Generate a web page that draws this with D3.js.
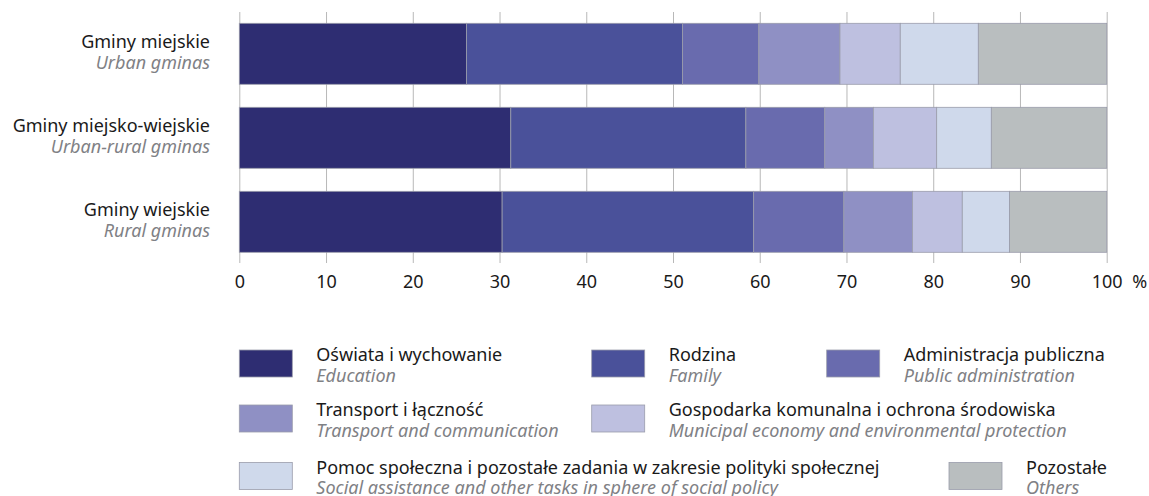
<!DOCTYPE html>
<html>
<head>
<meta charset="utf-8">
<script src="https://cdn.jsdelivr.net/npm/d3@7/dist/d3.min.js"></script>
<style>
  html, body { margin: 0; padding: 0; background: #ffffff; }
  svg { display: block; font-family: "Noto Sans", "Open Sans", sans-serif; }
</style>
</head>
<body>
<svg id="chart" width="1149" height="496"></svg>
<script>
// ---- Data ----
const categoriesPL = ["Gminy miejskie", "Gminy miejsko-wiejskie", "Gminy wiejskie"];
const categoriesEN = ["Urban gminas", "Urban-rural gminas", "Rural gminas"];

const seriesPL = ["Oświata i wychowanie", "Rodzina", "Administracja publiczna",
  "Transport i łączność", "Gospodarka komunalna i ochrona środowiska",
  "Pomoc społeczna i pozostałe zadania w zakresie polityki społecznej", "Pozostałe"];
const seriesEN = ["Education", "Family", "Public administration",
  "Transport and communication", "Municipal economy and environmental protection",
  "Social assistance and other tasks in sphere of social policy", "Others"];

// values per series, in category order (urban, urban-rural, rural), %
const education      = [26.2, 31.3, 30.3];
const family         = [24.9, 27.1, 29.0];
const publicAdmin    = [8.8, 9.1, 10.4];
const transport      = [9.35, 5.6, 7.9];
const municipal      = [6.95, 7.3, 5.75];
const socialAssist   = [9.0, 6.3, 5.45];
const others         = [14.8, 13.3, 11.2];

const tickValues = [0, 10, 20, 30, 40, 50, 60, 70, 80, 90, 100];
const unitLabel = "%";

const colors = ["#2e2d72", "#4a519a", "#696bae", "#8f90c4", "#bec0e0", "#cfd9eb", "#b9bebf"];

// ---- Build table ----
const seriesValues = [education, family, publicAdmin, transport, municipal, socialAssist, others];
const table = categoriesPL.map((c, i) => {
  const row = { cat: c };
  seriesPL.forEach((s, j) => { row[s] = seriesValues[j][i]; });
  return row;
});
const stacked = d3.stack().keys(seriesPL)(table);

// ---- Layout ----
const FS = "18px";
const svg = d3.select("#chart");
const x = d3.scaleLinear().domain([0, 100]).range([239.3, 1106.7]);
const y = d3.scaleBand().domain(categoriesPL).range([23.3, 252.3]).paddingInner(0.274).paddingOuter(0);

const gridTop = 12, axisY = 263;

// gridlines + ticks via axis
const axis = d3.axisBottom(x).tickValues(tickValues).tickSize(-(axisY - gridTop)).tickPadding(12).tickFormat(d3.format("d"));
const gAxis = svg.append("g").attr("transform", `translate(0,${axisY})`).call(axis);
gAxis.select(".domain").remove();
gAxis.selectAll(".tick line").attr("stroke", "#b8b8b8").attr("stroke-width", 1);
gAxis.selectAll(".tick text").attr("fill", "#1a1a1a").style("font-size", FS).style("font-family", "Noto Sans, sans-serif");

svg.append("text")
  .attr("x", x(100) + 33).attr("y", 288)
  .attr("text-anchor", "middle")
  .attr("fill", "#1a1a1a").style("font-size", FS)
  .text(unitLabel);

// bars
svg.append("g").selectAll("g")
  .data(stacked).join("g")
  .attr("fill", (d, i) => colors[i])
  .selectAll("rect")
  .data(d => d).join("rect")
  .attr("x", d => x(d[0]))
  .attr("y", d => y(d.data.cat))
  .attr("width", d => x(d[1]) - x(d[0]))
  .attr("height", y.bandwidth())
  .attr("stroke", "#9a9cab").attr("stroke-width", 0.8);

// category labels
const catG = svg.append("g").selectAll("g").data(categoriesPL).join("g")
  .attr("transform", d => `translate(210,${y(d) + y.bandwidth() / 2})`);
catG.append("text").attr("y", -6).attr("text-anchor", "end")
  .attr("fill", "#1a1a1a").style("font-size", FS).text(d => d);
catG.append("text").attr("y", 15.5).attr("text-anchor", "end")
  .attr("fill", "#7f8185").style("font-size", FS).style("font-style", "italic")
  .text((d, i) => categoriesEN[i]);

// legend
const legendPos = [
  [239.3, 350], [591.7, 350], [826.7, 350],
  [239.3, 405], [591.7, 405],
  [239.3, 462.5], [949, 462.5]
];
const lg = svg.append("g").selectAll("g").data(seriesPL).join("g")
  .attr("transform", (d, i) => `translate(${legendPos[i][0]},${legendPos[i][1]})`);
lg.append("rect").attr("width", 53).attr("height", 27)
  .attr("fill", (d, i) => colors[i]).attr("stroke", "#9a9cab").attr("stroke-width", 0.8);
lg.append("text").attr("x", 77).attr("y", 11)
  .attr("fill", "#1a1a1a").style("font-size", FS).text(d => d);
lg.append("text").attr("x", 77).attr("y", 31.5)
  .attr("fill", "#7f8185").style("font-size", FS).style("font-style", "italic")
  .text((d, i) => seriesEN[i]);
</script>
</body>
</html>
